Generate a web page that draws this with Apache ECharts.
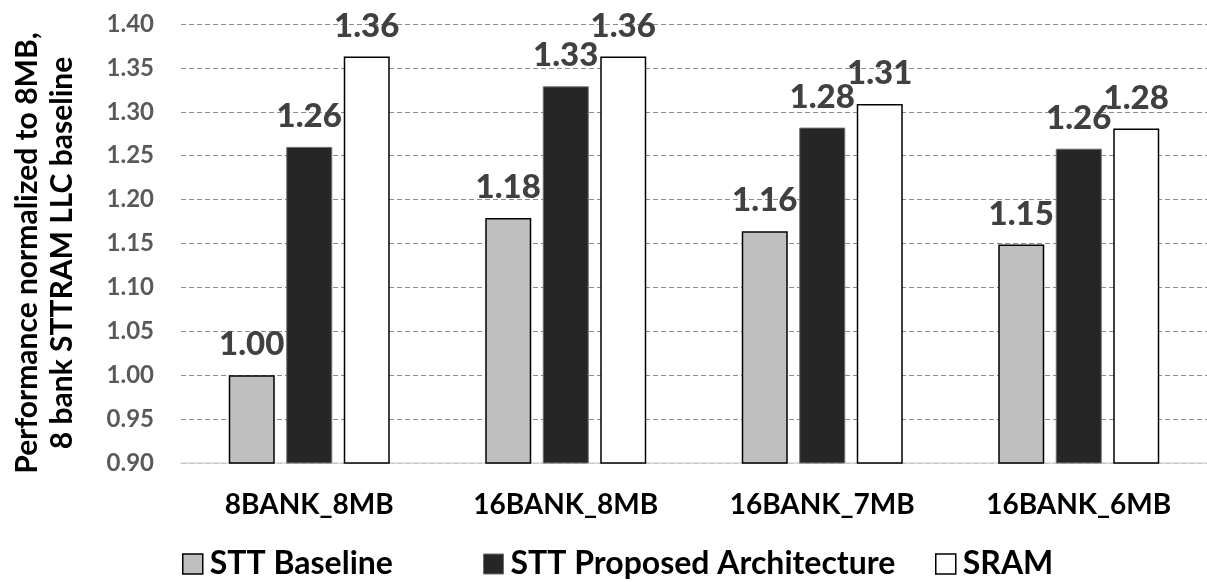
<!DOCTYPE html>
<html>
<head>
<meta charset="utf-8">
<script src="https://cdn.jsdelivr.net/npm/echarts@6/dist/echarts.min.js"></script>
<style>
  html, body { margin: 0; padding: 0; background: #fff; }
  #chart { width: 1207px; height: 582px; }
</style>
</head>
<body>
<div id="chart"></div>
<script>
// Cache configurations
const categories = ['8BANK_8MB', '16BANK_8MB', '16BANK_7MB', '16BANK_6MB'];
const sttBaseline = [1.00, 1.179, 1.164, 1.149];
const sttProposed = [1.26, 1.329, 1.282, 1.258];
const sram = [1.363, 1.363, 1.309, 1.281];
const seriesNames = ['STT Baseline', 'STT Proposed Architecture', 'SRAM'];
const yTitleLines = ['Performance normalized to 8MB,', '8 bank STTRAM LLC baseline'];

const FONT = 'Lato';

const styles = [
  { color: '#bfbfbf', borderColor: '#000000', borderWidth: 1.5 },
  { color: '#262626', borderColor: '#6e6e6e', borderWidth: 1 },
  { color: '#ffffff', borderColor: '#000000', borderWidth: 1.5 }
];

const valueLabel = {
  show: true,
  position: 'top',
  distance: 14,
  fontFamily: FONT,
  fontWeight: 900,
  fontSize: 33,
  color: '#404040',
  formatter: p => p.value.toFixed(2)
};

function barSeries(name, data, style) {
  return {
    name: name,
    type: 'bar',
    data: data,
    barWidth: 46,
    barGap: '25%',
    itemStyle: style,
    label: valueLabel,
    emphasis: { disabled: true }
  };
}

const legendPos = [182, 483, 935];
const legends = seriesNames.map((n, i) => ({
  data: [{ name: n, itemStyle: styles[i] }],
  left: legendPos[i],
  top: 548,
  icon: 'rect',
  itemWidth: 20,
  itemHeight: 20,
  itemGap: 0,
  padding: 0,
  selectedMode: false,
  textStyle: {
    fontFamily: FONT,
    fontWeight: 'bold',
    fontSize: 32,
    color: '#000000',
    padding: [0, 0, 0, 2]
  }
}));

const chart = echarts.init(document.getElementById('chart'), null, { renderer: 'canvas' });

chart.setOption({
  animation: false,
  backgroundColor: '#ffffff',
  grid: { left: 181, top: 24, width: 1033, height: 439, containLabel: false },
  legend: legends,
  xAxis: {
    type: 'category',
    data: categories,
    axisTick: { show: false },
    axisLine: { show: true, lineStyle: { color: '#d9d9d9', width: 1.5 } },
    axisLabel: {
      fontFamily: FONT,
      fontWeight: 'bold',
      fontSize: 28,
      color: '#000000',
      margin: 28
    }
  },
  yAxis: {
    type: 'value',
    min: 0.9,
    max: 1.4,
    interval: 0.05,
    axisLine: { show: false },
    axisTick: { show: false },
    splitLine: { lineStyle: { color: '#8c8c8c', type: [5, 3], width: 1 } },
    axisLabel: {
      fontFamily: FONT,
      fontWeight: 'bold',
      fontSize: 24,
      color: '#595959',
      margin: 27,
      formatter: v => v.toFixed(2)
    }
  },
  graphic: yTitleLines.map((t, i) => ({
    type: 'text',
    x: 27 + i * 35,
    y: 253,
    rotation: Math.PI / 2,
    style: {
      text: t,
      fontFamily: FONT,
      fontWeight: 'bold',
      fontSize: 30,
      fill: '#000000',
      align: 'center',
      verticalAlign: 'middle'
    }
  })),
  series: [
    barSeries(seriesNames[0], sttBaseline, styles[0]),
    barSeries(seriesNames[1], sttProposed, styles[1]),
    barSeries(seriesNames[2], sram, styles[2])
  ]
});
</script>
</body>
</html>
